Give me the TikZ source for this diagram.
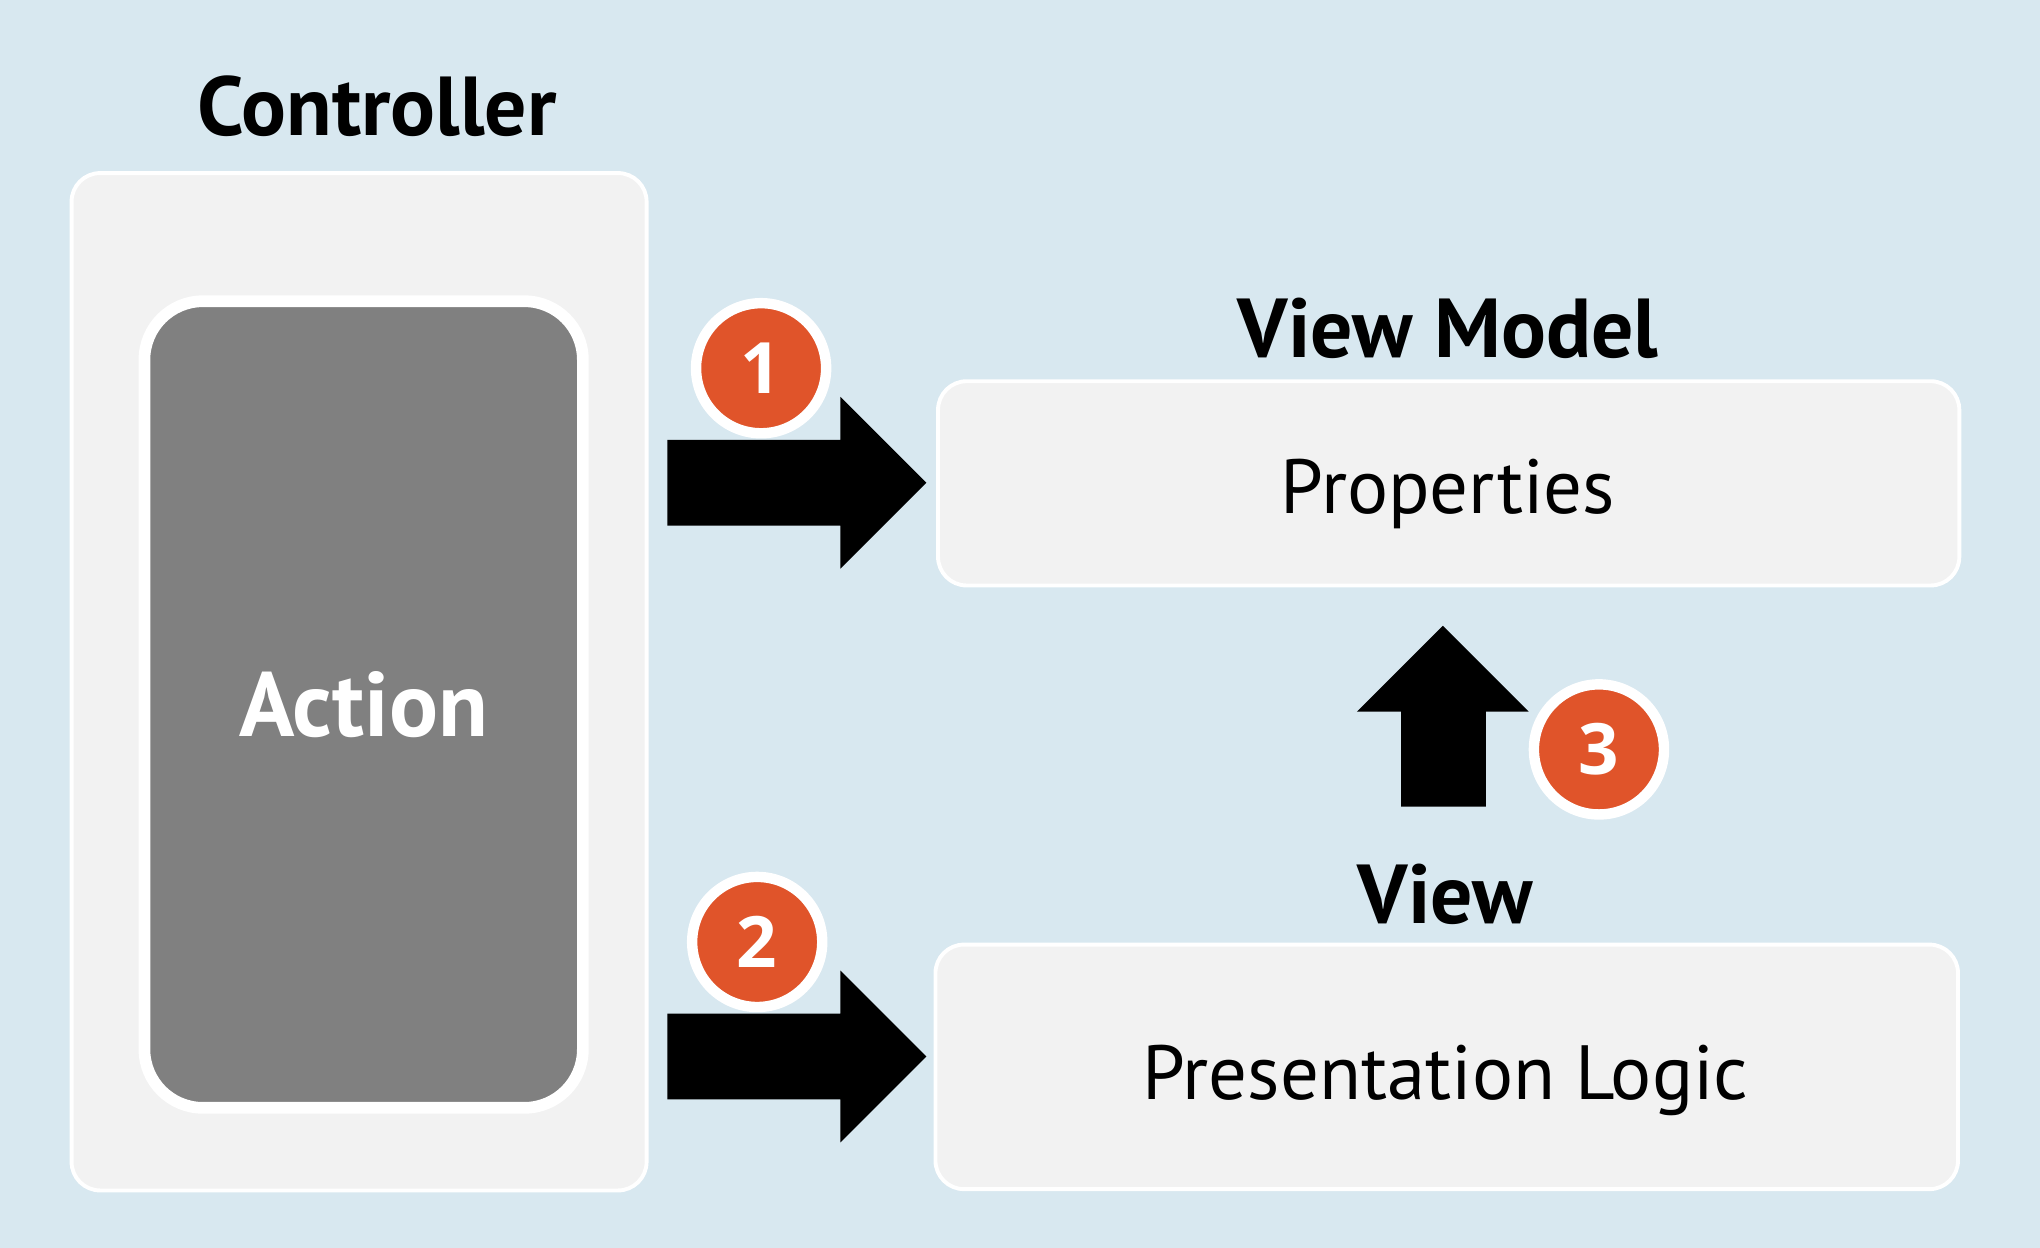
\documentclass[tikz,border=0pt]{standalone}
\usepackage{fontspec}
\setmainfont{PT Sans}
\newfontfamily\digitfont{Open Sans}
\definecolor{bgblue}{HTML}{D8E8F0}
\definecolor{panelgray}{HTML}{F2F2F2}
\definecolor{actiongray}{HTML}{808080}
\definecolor{badgeorange}{HTML}{E0542A}
\tikzset{
  panel/.style={draw=white, line width=0.85pt, fill=panelgray, rounded corners=2.2mm},
  title/.style={anchor=base, font=\bfseries\fontsize{18.3}{20}\selectfont},
  badge/.style={circle, draw=white, line width=0.8mm, fill=badgeorange, minimum size=10mm,
    inner sep=0pt, text=white, font=\digitfont\bfseries\fontsize{15.5}{18}\selectfont},
}
\begin{document}
\begin{tikzpicture}[x=0.1mm, y=-0.1mm]
        \fill[bgblue] (0,0) rectangle (1568,959);
        % boxes
        \node[panel, minimum width=44.2mm, minimum height=78.2mm] (ctrl) at (276,524) {};
        \node[draw=white, line width=2.56pt, fill=actiongray, rounded corners=4.5mm,
            minimum width=33.7mm, minimum height=62mm, text=white,
            font=\bfseries\fontsize{20}{22}\selectfont] (action) at (279.5,541.5) {Action};
        \node[panel, minimum width=78.5mm, minimum height=15.7mm] (vm) at (1113.5,371.5) {};
        \node[panel, minimum width=78.6mm, minimum height=18.8mm] (view) at (1112,820) {};
        % labels
        \node[title] (ctrllabel) at (290,104) {Controller};
        \node[title] (vmlabel) at (1113,275) {View Model};
        \node[title] (viewlabel) at (1111,710) {View};
        \node[anchor=base, font=\fontsize{16.8}{20}\selectfont] (props) at (1113,395) {Properties};
        \node[anchor=base, font=\fontsize{16.8}{20}\selectfont] (logic) at (1111,845) {Presentation Logic};
        % block arrows
        \fill (712,371) -- ++(-66,-66) -- ++(0,33) -- ++(-133,0) -- ++(0,66) -- ++(133,0) -- ++(0,33) -- cycle;
        \fill (712,812) -- ++(-66,-66) -- ++(0,33) -- ++(-133,0) -- ++(0,66) -- ++(133,0) -- ++(0,33) -- cycle;
        \fill (1109,481) -- ++(66,66) -- ++(-33,0) -- ++(0,73) -- ++(-65,0) -- ++(0,-73) -- ++(-34,0) -- cycle;
        % badges
        \node[badge] (one) at (585,283) {1};
        \node[badge] (two) at (582,724) {2};
        \node[badge] (three) at (1229,576) {3};
    \end{tikzpicture}
\end{document}
